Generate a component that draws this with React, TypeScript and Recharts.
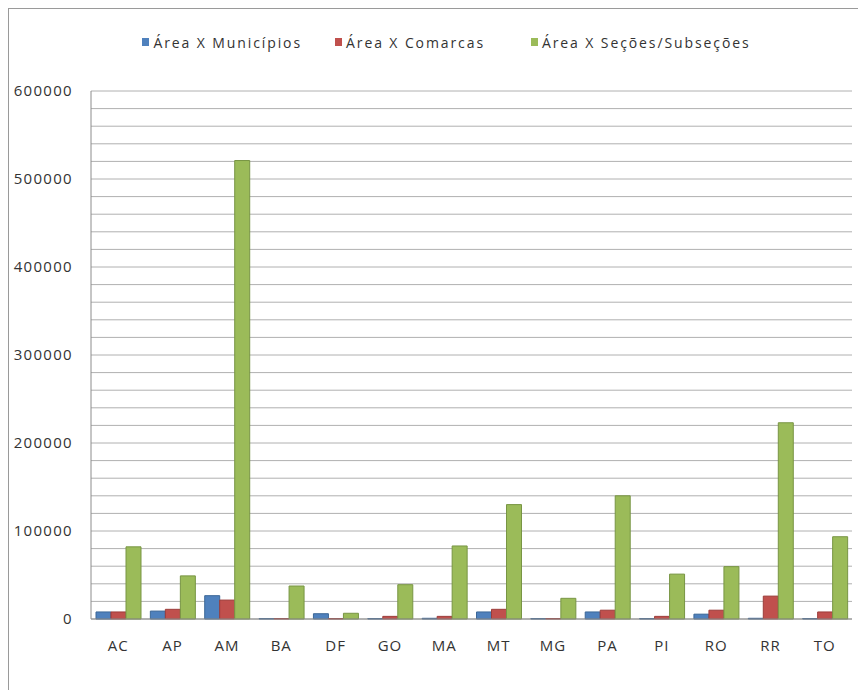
import React from 'react';
import { BarChart, Bar, XAxis, YAxis, CartesianGrid, Legend } from 'recharts';

// States (UF) on the category axis
const categories = ['AC', 'AP', 'AM', 'BA', 'DF', 'GO', 'MA', 'MT', 'MG', 'PA', 'PI', 'RO', 'RR', 'TO'];

// Área X Municípios
const municipios = [8000, 9000, 26500, 500, 6000, 500, 800, 8000, 500, 8000, 500, 5500, 800, 500];
// Área X Comarcas
const comarcas = [8000, 11000, 21500, 500, 500, 3000, 3000, 11000, 500, 10000, 3000, 10000, 26000, 8000];
// Área X Seções/Subseções
const secoes = [82000, 49000, 521000, 37500, 6500, 39000, 83000, 130000, 23500, 140000, 51000, 59500, 223000, 93500];

const yTicks = [0, 100000, 200000, 300000, 400000, 500000, 600000];
const gridValues = [
  0, 20000, 40000, 60000, 80000, 100000, 120000, 140000, 160000, 180000, 200000,
  220000, 240000, 260000, 280000, 300000, 320000, 340000, 360000, 380000, 400000,
  420000, 440000, 460000, 480000, 500000, 520000, 540000, 560000, 580000, 600000,
];

const seriesNames = ['Área X Municípios', 'Área X Comarcas', 'Área X Seções/Subseções'];
const seriesColors = ['#4f81bd', '#c0504d', '#9bbb59'];
const seriesStrokes = ['#3c6797', '#9c3d3a', '#789544'];
const legendGaps = [33, 46, 0];

const data = categories.map((uf, i) => ({
  uf,
  municipios: municipios[i],
  comarcas: comarcas[i],
  secoes: secoes[i],
}));

const FONT = '"Open Sans", sans-serif';

const LegendContent = () => (
  <div
    style={{
      display: 'flex',
      justifyContent: 'center',
      paddingLeft: 18,
      fontFamily: FONT,
      fontSize: 14,
      letterSpacing: 1.9,
      color: '#333',
      height: 18,
    }}
  >
    {seriesNames.map((name, i) => (
      <div key={name} style={{ display: 'flex', alignItems: 'center', marginRight: legendGaps[i] }}>
        <span
          style={{
            display: 'inline-block',
            width: 7,
            height: 8,
            background: seriesColors[i],
            marginRight: 4,
          }}
        />
        <span>{name}</span>
      </div>
    ))}
  </div>
);

export default function App() {
  return (
    <div
      style={{
        width: 858,
        height: 682,
        borderLeft: '1px solid #9a9a9a',
        borderTop: '1px solid #9a9a9a',
        boxSizing: 'border-box',
        overflow: 'hidden',
        background: '#fff',
      }}
    >
      <BarChart
        width={857}
        height={681}
        data={data}
        margin={{ top: 64, right: 14, left: 20, bottom: 41 }}
        barGap={0}
      >
        <CartesianGrid
          vertical={false}
          stroke="#b0b0b0"
          strokeWidth={1}
          horizontalValues={gridValues}
        />
        <XAxis
          dataKey="uf"
          axisLine={{ stroke: '#8c8c8c' }}
          tickLine={false}
          tickMargin={15}
          height={30}
          tick={{ fontFamily: FONT, fontSize: 15, fill: '#333', letterSpacing: 1 }}
        />
        <YAxis
          domain={[0, 600000]}
          ticks={yTicks}
          interval={0}
          width={62}
          axisLine={{ stroke: '#8c8c8c' }}
          tickLine={false}
          tickMargin={12}
          tick={{ fontFamily: FONT, fontSize: 15, fill: '#333', letterSpacing: 1.3 }}
        />
        <Legend
          verticalAlign="top"
          align="center"
          content={<LegendContent />}
          wrapperStyle={{ top: 24, left: 0, width: 857 }}
        />
        <Bar
          dataKey="municipios"
          name={seriesNames[0]}
          fill={seriesColors[0]}
          stroke={seriesStrokes[0]}
          strokeWidth={1}
          barSize={15}
          isAnimationActive={false}
        />
        <Bar
          dataKey="comarcas"
          name={seriesNames[1]}
          fill={seriesColors[1]}
          stroke={seriesStrokes[1]}
          strokeWidth={1}
          barSize={15}
          isAnimationActive={false}
        />
        <Bar
          dataKey="secoes"
          name={seriesNames[2]}
          fill={seriesColors[2]}
          stroke={seriesStrokes[2]}
          strokeWidth={1}
          barSize={15}
          isAnimationActive={false}
        />
      </BarChart>
    </div>
  );
}
